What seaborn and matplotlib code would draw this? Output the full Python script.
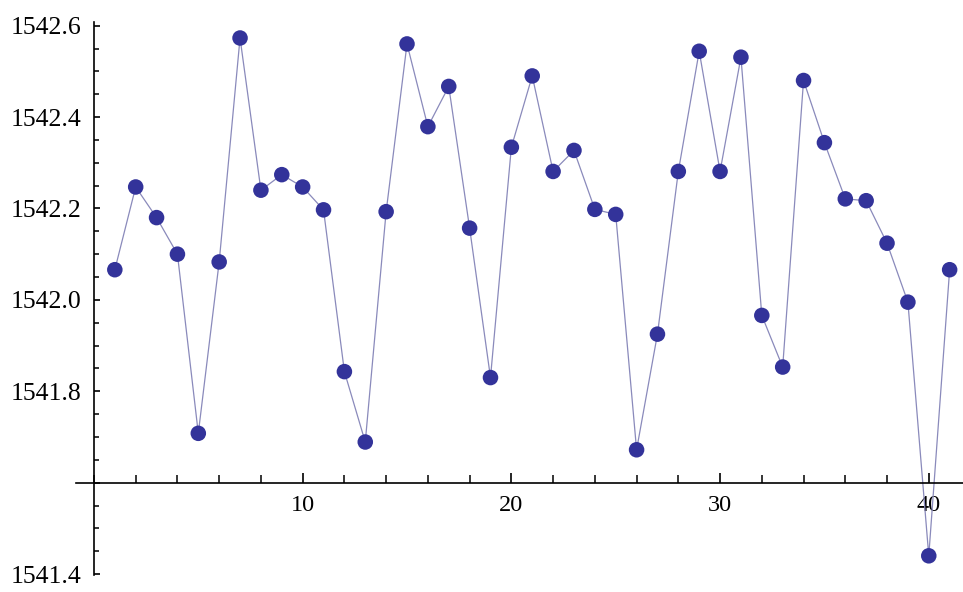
import numpy as np
import pandas as pd
import matplotlib
matplotlib.use("Agg")
import matplotlib.pyplot as plt
from matplotlib.ticker import MultipleLocator
import seaborn as sns

# Values (index 1..41)
index = list(range(1, 42))
values = [1542.066, 1542.247, 1542.180, 1542.100, 1541.708, 1542.083, 1542.573,
          1542.240, 1542.274, 1542.247, 1542.197, 1541.843, 1541.689, 1542.193,
          1542.560, 1542.379, 1542.467, 1542.157, 1541.830, 1542.334, 1542.490,
          1542.281, 1542.327, 1542.198, 1542.187, 1541.672, 1541.925, 1542.281,
          1542.544, 1542.281, 1542.531, 1541.966, 1541.853, 1542.480, 1542.344,
          1542.221, 1542.217, 1542.124, 1541.995, 1541.440, 1542.066]

x_ticks = [10, 20, 30, 40]
x_tick_labels = ['10', '20', '30', '40']
y_ticks = [1541.4, 1541.6, 1541.8, 1542.0, 1542.2, 1542.4, 1542.6]
y_tick_labels = ['1541.4', '', '1541.8', '1542.0', '1542.2', '1542.4', '1542.6']

df = pd.DataFrame({'n': index, 'value': values})

sns.set_style("white")
plt.rcParams['font.family'] = ['Liberation Serif', 'DejaVu Serif']

fig = plt.figure(figsize=(9.63, 5.92), dpi=100)
ax = fig.add_axes([76 / 963, 17 / 592, 887 / 963, 553 / 592])

# connecting line and points
sns.lineplot(data=df, x='n', y='value', ax=ax, color='#8a8abb', linewidth=0.9,
             zorder=2)
sns.scatterplot(data=df, x='n', y='value', ax=ax, color='#33339a', s=125,
                edgecolor='none', zorder=3, clip_on=False)

ax.set_xlim(-0.86, 41.64)
ax.set_ylim(1541.398, 1542.608)

# Mathematica style axes crossing at (0, 1541.6)
ax.spines['top'].set_visible(False)
ax.spines['right'].set_visible(False)
ax.spines['left'].set_position(('data', 0))
ax.spines['bottom'].set_position(('data', 1541.6))
for side in ['left', 'bottom']:
    ax.spines[side].set_linewidth(1.2)
    ax.spines[side].set_color('black')

ax.set_xticks(x_ticks)
ax.set_xticklabels(x_tick_labels)
ax.set_yticks(y_ticks)
ax.set_yticklabels(y_tick_labels)
ax.xaxis.set_minor_locator(MultipleLocator(2))
ax.yaxis.set_minor_locator(MultipleLocator(0.05))

ax.tick_params(axis='both', which='both', color='black', labelcolor='black')
ax.tick_params(axis='x', which='major', direction='in', length=7, width=1.2,
               labelsize=17.5, pad=9, bottom=True)
ax.tick_params(axis='x', which='minor', direction='in', length=5.5, width=1.1,
               bottom=True)
ax.tick_params(axis='y', which='major', direction='in', length=4, width=1.2,
               labelsize=18.5, pad=9, left=True)
ax.tick_params(axis='y', which='minor', direction='in', length=3.5, width=1.1,
               left=True)

ax.set_xlabel('')
ax.set_ylabel('')
ax.grid(False)

fig.savefig('out.png', dpi=100)
